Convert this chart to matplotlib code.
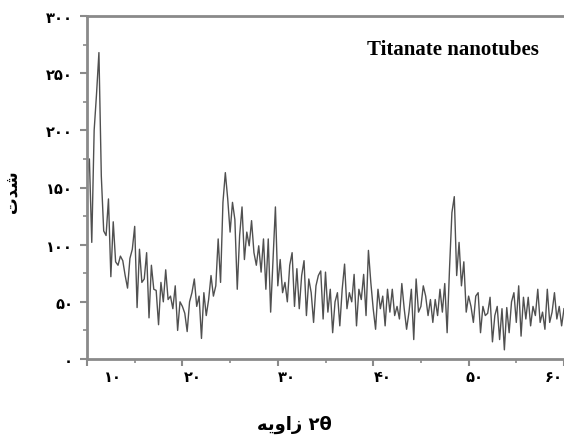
import numpy as np
import matplotlib
matplotlib.use('Agg')
import matplotlib.pyplot as plt
from matplotlib.ticker import MultipleLocator
import matplotlib.transforms as mtransforms

# XRD pattern on a 0.25 deg grid
theta_start, theta_stop, theta_step = 10.0, 60.0, 0.25
intensity = [
    160, 175, 102, 200, 232, 268, 160, 112, 108, 140, 72, 120, 85, 82, 90, 86, 73, 62, 88, 96,
    116, 45, 96, 67, 70, 93, 36, 82, 61, 60, 30, 67, 50, 78, 52, 55, 44, 64, 25, 50,
    46, 40, 24, 50, 58, 70, 46, 55, 18, 58, 38, 52, 73, 55, 64, 105, 67, 137, 163, 140,
    111, 137, 122, 61, 108, 133, 87, 111, 99, 121, 93, 82, 99, 76, 105, 61, 105, 41, 87, 133,
    64, 87, 58, 67, 50, 82, 93, 46, 79, 44, 73, 86, 38, 70, 58, 32, 64, 73, 77, 35,
    76, 41, 61, 23, 50, 58, 29, 61, 83, 44, 58, 50, 74, 29, 61, 52, 74, 38, 95, 67,
    44, 26, 61, 44, 55, 29, 61, 41, 61, 38, 46, 35, 66, 44, 26, 41, 61, 17, 70, 41,
    46, 64, 55, 38, 52, 32, 52, 38, 61, 41, 66, 23, 79, 128, 142, 73, 102, 64, 85, 41,
    55, 46, 32, 55, 58, 23, 46, 38, 40, 54, 15, 38, 46, 17, 44, 8, 45, 23, 50, 58,
    32, 64, 20, 54, 35, 54, 29, 46, 38, 61, 32, 41, 26, 61, 32, 41, 58, 35, 46, 29,
    44,
]
two_theta = np.arange(theta_start, theta_stop + theta_step / 2, theta_step)

y_ticks = [0, 50, 100, 150, 200, 250, 300]
y_labels = ['۰', '۵۰', '۱۰۰', '۱۵۰', '۲۰۰', '۲۵۰', '۳۰۰']
x_ticks = [10, 20, 30, 40, 50, 60]
x_labels = ['۱۰', '۲۰', '۳۰', '۴۰', '۵۰', '۶۰']
x_label_pos = [12.7, 21.1, 31.0, 41.0, 50.6, 58.9]

# Persian text, pre-shaped (presentation forms, visual order)
ylabel = '\uFE95\uFEAA\uFEB7'                      # شدت
xlabel = '\uFEEA\uFEF3\uFEED\uFE8D\uFEAF ۲θ'        # زاویه ۲θ
title = 'Titanate nanotubes'

axis_gray = '#8a8a8a'

fig = plt.figure(figsize=(5.64, 4.39), dpi=100)
ax = fig.add_axes([87 / 564, 79 / 439, 477 / 564, 343 / 439])

ax.plot(two_theta, intensity, color='#505050', lw=1.0)

ax.set_xlim(theta_start, theta_stop)
ax.set_ylim(0, 300)

for side in ['left', 'bottom', 'top']:
    ax.spines[side].set_color(axis_gray)
    ax.spines[side].set_linewidth(2)
ax.spines['right'].set_visible(False)

ax.set_xticks(x_ticks)
ax.set_xticklabels([])
ax.xaxis.set_minor_locator(MultipleLocator(5))
ax.set_yticks(y_ticks)
ax.set_yticklabels(y_labels, fontfamily='DejaVu Sans', fontweight='bold', fontsize=10.5)
ax.yaxis.set_minor_locator(MultipleLocator(25))

ax.tick_params(axis='both', which='major', direction='out', length=5, width=1.5, color=axis_gray)
ax.tick_params(axis='both', which='minor', direction='out', length=3, width=1.2, color=axis_gray)
ax.tick_params(axis='y', which='major', pad=5)

trans = mtransforms.blended_transform_factory(ax.transData, ax.transAxes)
for pos, lab in zip(x_label_pos, x_labels):
    ax.text(pos, -0.052, lab, transform=trans, ha='center', va='center',
            fontfamily='DejaVu Sans', fontweight='bold', fontsize=10.5)

ax.text(0.587, 0.904, title, transform=ax.transAxes, ha='left', va='center',
        fontfamily='Liberation Serif', fontweight='bold', fontsize=15)

fig.text(12 / 564, 1 - 192 / 439, ylabel, rotation=90, ha='center', va='center',
         fontfamily='DejaVu Sans', fontweight='bold', fontsize=12)
fig.text(294 / 564, 1 - 425 / 439, xlabel, ha='center', va='center',
         fontfamily='DejaVu Sans', fontweight='bold', fontsize=13)

fig.savefig('out.png', dpi=100)
